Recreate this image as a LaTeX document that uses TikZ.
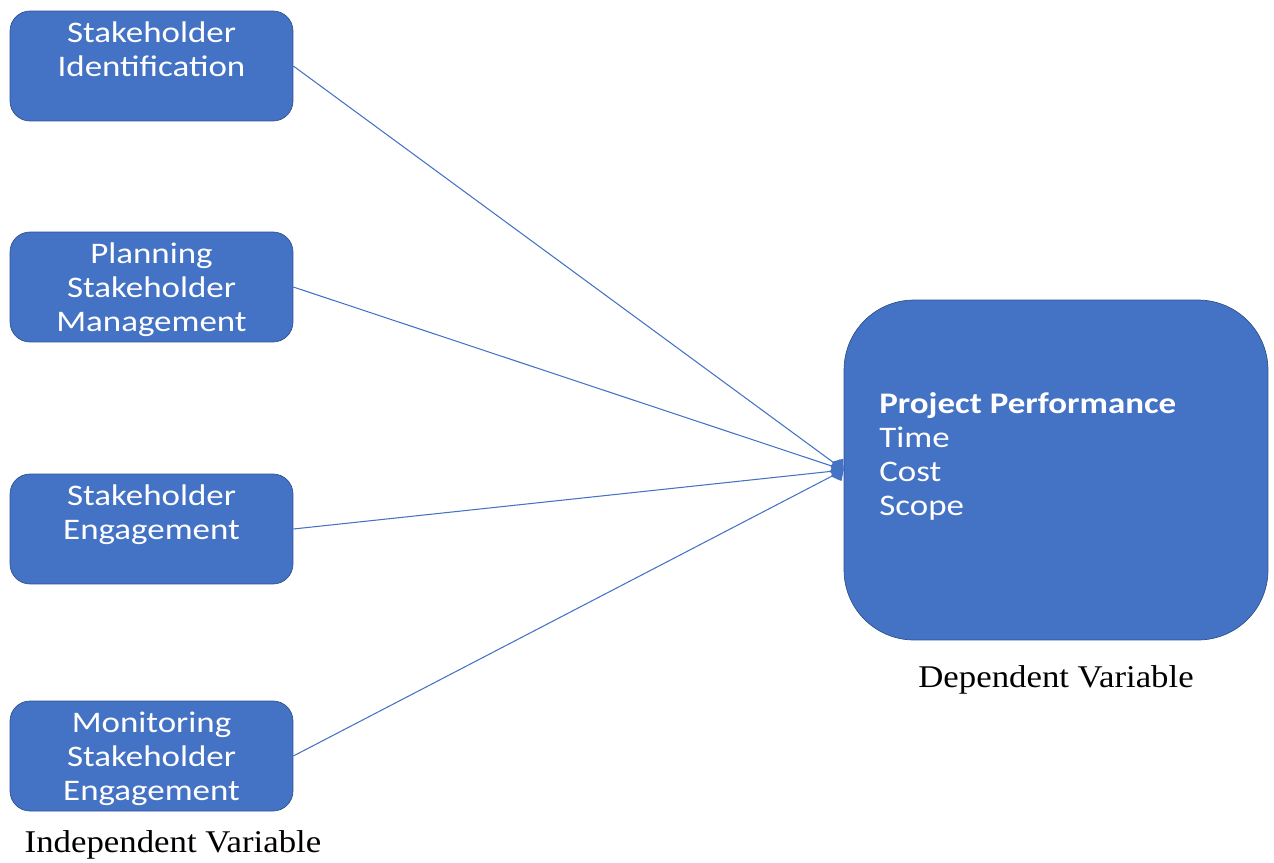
\documentclass[tikz,border=0pt]{standalone}
\usepackage{fontspec}
\setmainfont{Carlito}[FakeStretch=1.17]
\newfontfamily\captionfont{Liberation Serif}[FakeStretch=1.1]
\usetikzlibrary{arrows.meta,positioning}
\definecolor{boxblue}{HTML}{4472C4}
\definecolor{boxedge}{HTML}{2F528F}
\newcommand\liftline{\rule{0pt}{15.4pt}}

\begin{document}
\begin{tikzpicture}[x=0.02cm,y=-0.02cm,
                    factor/.style={draw=boxedge,fill=boxblue,rounded corners=0.4cm,
                      minimum width=5.66cm,minimum height=2.2cm,inner sep=0pt,
                      align=center,text=white,font=\fontsize{17}{19.35}\selectfont},
                    outcome/.style={draw=boxedge,fill=boxblue,rounded corners=1.4cm,
                      minimum width=8.48cm,minimum height=6.8cm,inner sep=0pt},
                    caption/.style={font=\captionfont\fontsize{18}{22}\selectfont},
                    link/.style={draw=boxblue,line width=0.6pt,
                      -{Kite[length=8pt,width=10pt,inset=4pt]}}]

  \useasboundingbox (0,0) rectangle (1274,862);

  \node[factor]  (ident)   at (151.5,66)
    {\liftline Stakeholder\\Identification\\\phantom{Engagement}};
  \node[factor]  (plan)    at (151.5,287)
    {\liftline Planning\\Stakeholder\\Management};
  \node[factor]  (engage)  at (151.5,529)
    {\liftline Stakeholder\\Engagement\\\phantom{Engagement}};
  \node[factor]  (monitor) at (151.5,756)
    {\liftline Monitoring\\Stakeholder\\Engagement};
  \node[outcome] (perf)    at (1056,470)  {};

  \node[anchor=west,align=left,text=white,inner sep=0pt,
        font=\fontsize{17}{19.35}\selectfont] (perftext) at (879,456)
    {\textbf{Project Performance}\\Time\\Cost\\Scope};

  \node[caption] (dep)   at (1056,680) {Dependent Variable};
  \node[caption] (indep) at (173,845)  {Independent Variable};

  \path (ident.east)   edge[link] (perf.west)
        (plan.east)    edge[link] (perf.west)
        (engage.east)  edge[link] (perf.west)
        (monitor.east) edge[link] (perf.west);
\end{tikzpicture}
\end{document}
